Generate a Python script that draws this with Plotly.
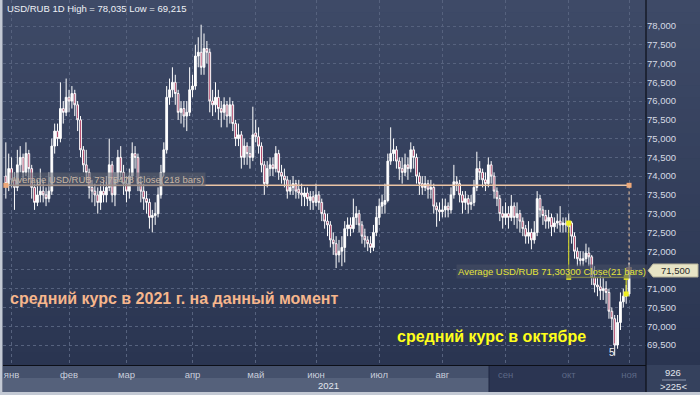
import plotly.graph_objects as go

# ---------------- data ----------------
OPEN = [
    74.0, 73.8, 74.2, 73.9, 73.7, 74.3, 74.5, 74.1, 74.6, 74.2,
    73.7, 73.3, 73.5, 73.6, 73.5, 73.4, 73.6, 74.8, 75.2, 75.0,
    75.8, 75.7, 76.1, 76.0, 76.2, 75.9, 75.5, 74.7, 74.3, 74.1,
    73.7, 73.6, 73.5, 73.3, 73.6, 73.5, 73.7, 74.3, 73.5, 73.9,
    74.5, 74.1, 73.8, 73.6, 74.0, 74.6, 74.5, 73.8, 73.6, 73.4,
    73.3, 72.9, 72.95, 73.0, 73.5, 74.1, 74.7, 76.1, 76.3, 76.5,
    76.2, 75.7, 75.8, 75.6, 75.7, 76.3, 76.4, 77.2, 77.3, 76.9,
    77.4, 77.3, 76.0, 75.9, 76.1, 75.8, 75.7, 75.9, 75.6, 75.9,
    75.4, 75.0, 75.1, 74.5, 74.8, 74.6, 74.5, 75.15, 75.05, 74.8,
    74.3, 73.8, 74.2, 74.3, 74.2, 74.6, 74.1, 74.0, 73.9, 73.6,
    73.7, 73.8, 73.65, 73.55, 73.45, 73.55, 73.35, 73.45, 73.3, 73.5,
    73.3, 73.0, 72.8, 72.7, 72.3, 72.2, 71.9, 72.0, 72.1, 72.6,
    72.7, 72.6, 72.9, 73.0, 72.7, 72.4, 72.3, 72.2, 72.1, 72.5,
    72.9, 73.2, 73.25, 73.35, 74.4, 74.6, 74.7, 74.4, 74.2, 74.1,
    74.3, 74.2, 74.7, 74.5, 74.0, 73.8, 73.7, 73.8, 73.65, 73.7,
    73.2, 73.1, 73.05, 73.1, 73.2, 73.1, 73.5, 73.85, 73.8, 73.5,
    73.3, 73.4, 73.25, 73.3, 73.7, 74.2, 74.1, 73.9, 73.8, 74.3,
    74.0, 73.6, 73.4, 73.0, 72.9, 73.0, 72.9, 73.2, 72.9, 73.0,
    72.8, 72.6, 72.4, 72.5, 72.3, 72.5, 73.4, 73.1, 72.95, 72.8,
    72.9, 72.65, 72.75, 72.8, 72.7, 72.75, 72.65, 72.75, 72.4, 72.0,
    71.8, 71.75, 71.8, 71.95, 71.85, 71.3, 71.1, 71.05, 70.95, 71.0,
    70.9, 70.4, 70.2, 69.5, 70.1, 70.65, 70.8, 70.86,
]
HIGH = [
    74.9, 74.6, 74.5, 74.1, 74.7, 74.8, 74.6, 74.9, 74.7, 74.3,
    73.8, 73.9, 74.2, 73.9, 73.7, 74.1, 75.0, 75.4, 75.4, 76.5,
    76.0, 76.6, 76.3, 76.4, 76.3, 76.0, 75.6, 74.8, 74.7, 74.2,
    73.9, 73.8, 73.7, 73.8, 73.9, 74.0, 75.0, 74.4, 74.1, 74.7,
    74.8, 74.3, 74.0, 74.2, 74.9, 74.8, 74.6, 74.0, 73.8, 73.6,
    73.4, 73.1, 73.3, 73.7, 74.3, 74.9, 76.4, 76.6, 76.9, 76.7,
    76.3, 76.0, 76.0, 76.0, 76.9, 76.7, 77.5, 77.7, 78.035, 77.8,
    77.6, 77.4, 76.3, 76.5, 76.3, 76.0, 76.1, 76.0, 76.1, 76.0,
    75.5, 75.4, 75.2, 75.0, 74.9, 74.8, 75.85, 75.5, 75.3, 74.9,
    74.4, 74.4, 74.5, 74.5, 74.8, 74.7, 74.3, 74.2, 74.0, 73.9,
    74.0, 73.9, 73.9, 73.8, 73.7, 73.7, 73.6, 73.6, 73.8, 73.6,
    73.4, 73.1, 73.0, 72.8, 72.5, 72.4, 72.3, 72.4, 72.8, 72.9,
    72.9, 73.4, 73.2, 73.1, 72.8, 72.6, 72.4, 72.4, 72.7, 73.2,
    73.4, 73.5, 73.8, 74.6, 75.3, 75.0, 74.8, 74.5, 74.5, 74.6,
    74.5, 74.9, 74.8, 74.6, 74.1, 74.0, 74.0, 73.9, 73.9, 73.8,
    73.3, 73.3, 73.4, 73.4, 73.3, 73.7, 74.3, 74.0, 73.9, 73.6,
    73.6, 73.5, 73.5, 73.9, 74.65, 74.4, 74.2, 74.1, 74.5, 74.4,
    74.1, 73.7, 73.5, 73.2, 73.3, 73.2, 73.5, 73.3, 73.3, 73.1,
    72.9, 72.7, 72.8, 72.6, 72.8, 73.6, 73.5, 73.2, 73.1, 73.1,
    73.0, 72.9, 73.0, 73.2, 72.9, 72.9, 73.0, 72.8, 72.5, 72.1,
    72.0, 72.0, 72.2, 72.1, 71.9, 71.6, 71.3, 71.35, 71.3, 71.2,
    71.0, 70.5, 70.3, 70.3, 70.9, 71.0, 71.1, 71.7,
]
LOW = [
    73.4, 73.6, 73.7, 73.1, 73.6, 74.1, 73.9, 74.0, 73.9, 73.4,
    73.1, 73.2, 73.3, 73.3, 73.2, 73.3, 73.5, 74.6, 74.8, 74.9,
    75.4, 75.6, 75.7, 75.8, 75.6, 75.2, 74.5, 74.1, 73.9, 73.4,
    73.3, 73.2, 73.0, 73.1, 73.3, 73.3, 73.6, 73.3, 73.2, 73.8,
    73.9, 73.5, 73.3, 73.4, 73.9, 74.2, 73.6, 73.3, 73.1, 73.0,
    72.6, 72.5, 72.7, 72.9, 73.4, 74.0, 74.6, 75.9, 76.1, 75.9,
    75.5, 75.4, 75.3, 75.2, 75.6, 76.1, 76.3, 76.9, 76.7, 76.7,
    77.0, 75.7, 75.6, 75.7, 75.5, 75.3, 75.5, 75.3, 75.4, 75.2,
    74.8, 74.8, 74.2, 74.3, 74.3, 74.2, 74.4, 74.9, 74.6, 74.1,
    73.5, 73.7, 74.0, 74.0, 74.1, 73.9, 73.8, 73.7, 73.4, 73.5,
    73.5, 73.4, 73.4, 73.2, 73.2, 73.2, 73.1, 73.1, 73.2, 73.1,
    72.8, 72.6, 72.4, 72.1, 71.9, 71.55, 71.7, 71.6, 71.7, 72.4,
    72.4, 72.5, 72.7, 72.5, 72.2, 72.1, 72.0, 71.95, 72.0, 72.4,
    72.7, 73.0, 73.0, 73.3, 74.3, 74.4, 74.2, 73.9, 73.8, 74.0,
    73.9, 74.1, 74.2, 73.8, 73.5, 73.5, 73.6, 73.4, 73.4, 73.0,
    72.65, 72.8, 72.9, 72.9, 72.9, 73.0, 73.4, 73.6, 73.3, 73.0,
    73.1, 73.0, 73.1, 73.2, 73.6, 73.9, 73.7, 73.6, 73.7, 73.8,
    73.4, 73.2, 72.8, 72.6, 72.7, 72.6, 72.8, 72.7, 72.6, 72.5,
    72.4, 72.2, 72.2, 72.05, 72.2, 72.4, 72.9, 72.7, 72.6, 72.6,
    72.4, 72.5, 72.6, 72.5, 72.5, 72.5, 72.5, 72.2, 71.8, 71.6,
    71.6, 71.6, 71.7, 71.6, 71.1, 70.9, 70.8, 70.7, 70.7, 70.6,
    70.2, 69.9, 69.215, 69.4, 69.9, 70.5, 70.6, 70.8,
]
CLOSE = [
    73.8, 74.2, 73.9, 73.7, 74.3, 74.5, 74.1, 74.6, 74.2, 73.7,
    73.3, 73.5, 73.6, 73.5, 73.4, 73.6, 74.8, 75.2, 75.0, 75.8,
    75.7, 76.1, 76.0, 76.2, 75.9, 75.5, 74.7, 74.3, 74.1, 73.7,
    73.6, 73.5, 73.3, 73.6, 73.5, 73.7, 74.3, 73.5, 73.9, 74.5,
    74.1, 73.8, 73.6, 74.0, 74.6, 74.5, 73.8, 73.6, 73.4, 73.3,
    72.9, 72.95, 73.0, 73.5, 74.1, 74.7, 76.1, 76.3, 76.5, 76.2,
    75.7, 75.8, 75.6, 75.7, 76.3, 76.4, 77.2, 77.3, 76.9, 77.4,
    77.3, 76.0, 75.9, 76.1, 75.8, 75.7, 75.9, 75.6, 75.9, 75.4,
    75.0, 75.1, 74.5, 74.8, 74.6, 74.5, 75.1, 75.05, 74.8, 74.3,
    73.8, 74.2, 74.3, 74.2, 74.6, 74.1, 74.0, 73.9, 73.6, 73.7,
    73.8, 73.6, 73.55, 73.5, 73.55, 73.4, 73.45, 73.3, 73.5, 73.3,
    73.0, 72.8, 72.7, 72.3, 72.2, 71.9, 72.0, 72.1, 72.6, 72.7,
    72.6, 72.9, 73.0, 72.7, 72.4, 72.3, 72.2, 72.1, 72.5, 72.9,
    73.2, 73.3, 73.35, 74.4, 74.6, 74.7, 74.4, 74.2, 74.1, 74.3,
    74.2, 74.7, 74.5, 74.0, 73.8, 73.7, 73.8, 73.65, 73.7, 73.2,
    73.1, 73.05, 73.1, 73.2, 73.1, 73.5, 73.85, 73.8, 73.5, 73.3,
    73.4, 73.25, 73.3, 73.7, 74.2, 74.1, 73.9, 73.8, 74.3, 74.0,
    73.6, 73.4, 73.0, 72.9, 73.0, 72.9, 73.2, 72.9, 73.0, 72.8,
    72.6, 72.4, 72.5, 72.3, 72.5, 73.4, 73.1, 72.95, 72.8, 72.9,
    72.65, 72.75, 72.8, 72.7, 72.75, 72.7, 72.75, 72.4, 72.0, 71.8,
    71.75, 71.8, 71.95, 71.85, 71.3, 71.1, 71.05, 70.95, 71.0, 70.9,
    70.4, 70.2, 69.5, 70.1, 70.65, 70.8, 70.86, 71.5,
]
BAR = list(range(len(CLOSE)))          # trading-bar number (218 bars)

MONTH_BAR = [2, 22, 42, 65, 87, 108, 130, 152, 174, 196, 217]
MONTH_LABEL = ["янв", "фев", "мар", "апр", "май", "июн", "июл", "авг", "сен", "окт", "ноя"]
MONTH_DIM = [False] * 8 + [True] * 3

Y_TICKS = [69.5, 70.0, 70.5, 71.0, 71.5, 72.0, 72.5, 73.0, 73.5,
           74.0, 74.5, 75.0, 75.5, 76.0, 76.5, 77.0, 77.5, 78.0]

AVG_ALL = 73.75478
AVG_OCT = 71.303
OCT_FIRST_BAR = 196
OCT_LAST_BAR = 216
LAST_PRICE = 71.5
LAST_PRICE_TAG = "71,500"

TITLE = "USD/RUB 1D High = 78,035 Low = 69,215"
AVG_ALL_TEXT = "Average USD/RUB 73,75478 Close(218 bars)"
AVG_OCT_TEXT = "Average USD/RUB 71,30300 Close(21 bars)"
NOTE_ALL = "средний курс в 2021 г. на данный момент"
NOTE_OCT = "средний курс в октябре"

# ---------------- geometry helpers ----------------
W, H = 700, 395
ML, MR, MT, MB = 3, 54, 0, 30
PW = W - ML - MR
PH = H - MT - MB
FONT = "Liberation Sans, Arial, sans-serif"


def px(x):
    return (x - ML) / PW


def py(y):
    return (MT + PH - y) / PH


fig = go.Figure()

fig.add_trace(go.Candlestick(
    x=BAR, open=OPEN, high=HIGH, low=LOW, close=CLOSE,
    increasing=dict(line=dict(color="#ffffff", width=1), fillcolor="#ffffff"),
    decreasing=dict(line=dict(color="#ffffff", width=1), fillcolor="#a3204a"),
    whiskerwidth=0, showlegend=False, hoverinfo="skip",
))

# overall average line
fig.add_trace(go.Scatter(
    x=[BAR[0], BAR[-1]], y=[AVG_ALL, AVG_ALL], mode="lines+markers",
    line=dict(color="#eac4a4", width=1.5),
    marker=dict(symbol="square", size=5, color="#eea878"),
    showlegend=False, hoverinfo="skip",
))
fig.add_trace(go.Scatter(
    x=[BAR[-1], BAR[-1]], y=[AVG_ALL, CLOSE[-1]], mode="lines+markers",
    line=dict(color="#e2b894", width=1, dash="dot"),
    marker=dict(symbol="square", size=[0, 5], color="#eea878"),
    showlegend=False, hoverinfo="skip",
))
# October average
fig.add_trace(go.Scatter(
    x=[OCT_FIRST_BAR, OCT_FIRST_BAR, OCT_LAST_BAR, OCT_LAST_BAR],
    y=[CLOSE[OCT_FIRST_BAR], AVG_OCT, AVG_OCT, CLOSE[OCT_LAST_BAR]],
    mode="lines+markers",
    line=dict(color="#e6e622", width=1),
    marker=dict(symbol="square", size=5, color="#f0f020"),
    showlegend=False, hoverinfo="skip",
))

# ---------------- background shapes ----------------
shapes = []
top_c, bot_c = (62, 74, 103), (42, 53, 81)
N = 30
for k in range(N):
    t = (k + 0.5) / N
    c = tuple(round(top_c[j] + (bot_c[j] - top_c[j]) * t) for j in range(3))
    shapes.append(dict(type="rect", xref="paper", yref="paper",
                       x0=px(0), x1=px(W), y0=1 - (k + 1) / N - 0.002, y1=1 - k / N,
                       fillcolor="rgb(%d,%d,%d)" % c, line_width=0, layer="below"))
# bottom time-scale bands
shapes += [
    dict(type="rect", xref="paper", yref="paper", x0=px(3), x1=px(489),
         y0=py(378), y1=py(365), fillcolor="#45516c", line_width=0, layer="below"),
    dict(type="rect", xref="paper", yref="paper", x0=px(3), x1=px(489),
         y0=py(392), y1=py(378), fillcolor="#55617b", line_width=0, layer="below"),
    dict(type="rect", xref="paper", yref="paper", x0=px(489), x1=px(646),
         y0=py(392), y1=py(365), fillcolor="#2b3552", line_width=0, layer="below"),
    dict(type="line", xref="paper", yref="paper", x0=px(489), x1=px(489),
         y0=py(392), y1=py(366), line=dict(color="#1e2640", width=1), layer="below"),
    dict(type="rect", xref="paper", yref="paper", x0=px(646), x1=px(700),
         y0=py(392), y1=py(365), fillcolor="#35415d", line_width=0, layer="below"),
    dict(type="line", xref="paper", yref="paper", x0=px(662), x1=px(686),
         y0=py(380), y1=py(380), line=dict(color="#8a94aa", width=1), layer="below"),
    # frame
    dict(type="rect", xref="paper", yref="paper", x0=px(0), x1=px(700),
         y0=py(395), y1=py(392), fillcolor="#c3c9d4", line_width=0, layer="above"),
    dict(type="rect", xref="paper", yref="paper", x0=px(0), x1=px(2.5),
         y0=py(395), y1=py(0), fillcolor="#c3c9d4", line_width=0, layer="above"),
    dict(type="line", xref="paper", yref="paper", x0=px(646), x1=px(646),
         y0=py(392), y1=py(0), line=dict(color="#0c0f18", width=1.2), layer="above"),
    # last price tag
    dict(type="path", xref="paper", yref="paper",
         path="M %f,%f L %f,%f L %f,%f L %f,%f L %f,%f Z" % (
             px(648), py(270.5), px(653), py(264), px(698), py(264),
             px(698), py(277), px(653), py(277)),
         fillcolor="#e7e4c6", line=dict(color="#b8b49a", width=1), layer="above"),
]

# ---------------- annotations ----------------
ann = []


def text(x, y, s, size=9.5, color="#e6e9f0", anchor="left", bold=False, bg=None):
    d = dict(x=px(x), y=py(y), xref="paper", yref="paper", text=("<b>%s</b>" % s) if bold else s,
             showarrow=False, xanchor=anchor, yanchor="middle",
             font=dict(family=FONT, size=size, color=color))
    if bg:
        d.update(bgcolor=bg, borderpad=1)
    ann.append(d)


text(5, 8, TITLE, size=9.5, color="#eef1f6")
text(9, 179, AVG_ALL_TEXT, size=9.5, color="#c7b5a3", bg="rgba(95,98,112,0.55)")
text(456, 271, AVG_OCT_TEXT, size=9.5, color="#e4e43a", bg="rgba(70,78,100,0.6)")
text(8, 298, NOTE_ALL, size=16, color="#f6b68c", bold=True)
text(395, 336, NOTE_OCT, size=16, color="#ffff1a", bold=True)
text(612, 352, "5", size=10, color="#eef1f6", anchor="center")
text(328, 385, "2021", size=9.5, color="#e2e6ee", anchor="center")
text(673, 372, "926", size=9.5, color="#e2e6ee", anchor="center")
text(673, 386, "&gt;225&lt;", size=9.5, color="#e2e6ee", anchor="center")
text(675, 270.5, LAST_PRICE_TAG, size=9.5, color="#2a2a2a", anchor="center")

tick_text = [
    ('<span style="color:#5c6886">%s</span>' % m) if d else m
    for m, d in zip(MONTH_LABEL, MONTH_DIM)
]
# the price tag covers the tick label at the last-price level
y_text = ["" if v == LAST_PRICE else ("%.3f" % v).replace(".", ",") for v in Y_TICKS]

fig.update_layout(
    width=W, height=H,
    margin=dict(l=ML, r=MR, t=MT, b=MB, pad=0),
    paper_bgcolor="#2e3955", plot_bgcolor="rgba(0,0,0,0)",
    shapes=shapes, annotations=ann, showlegend=False,
    boxgap=0.12,
    font=dict(family=FONT, size=9.5, color="#d8dce6"),
    xaxis=dict(
        range=[-0.99, 222.9], tickmode="array", tickvals=MONTH_BAR, ticktext=tick_text,
        showgrid=True, gridcolor="#56627e", gridwidth=1, griddash="3px,3px",
        showline=True, linecolor="#0c0f18", linewidth=1.2, ticks="", zeroline=False,
        tickfont=dict(family=FONT, size=9.5, color="#c9cfdc"),
        rangeslider=dict(visible=False), fixedrange=True,
    ),
    yaxis=dict(
        side="right", range=[68.967, 78.693], tickmode="array", tickvals=Y_TICKS,
        ticktext=y_text,
        showgrid=True, gridcolor="#56627e", gridwidth=1, griddash="3px,3px",
        showline=False, ticks="", zeroline=False,
        tickfont=dict(family=FONT, size=9.5, color="#d6dae4"), fixedrange=True,
    ),
)

fig.write_html("out.html")
